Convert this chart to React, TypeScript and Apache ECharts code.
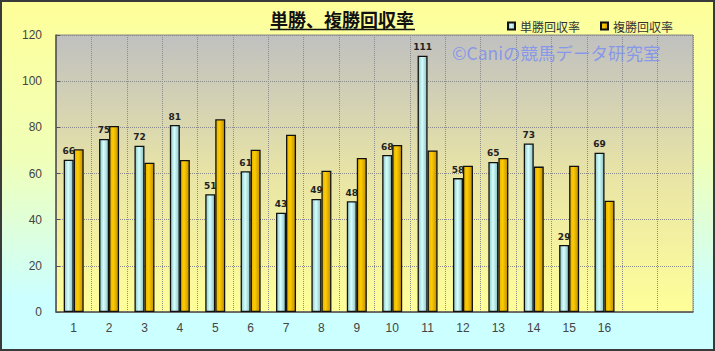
import React, { useEffect, useRef } from "react";
import * as echarts from "echarts";

const categories = ["1", "2", "3", "4", "5", "6", "7", "8", "9", "10", "11", "12", "13", "14", "15", "16", "", ""];
const tanshoValues = [66, 75, 72, 81, 51, 61, 43, 49, 48, 68, 111, 58, 65, 73, 29, 69, null, null];
const fukushoValues = [70.5, 80.6, 64.7, 65.9, 83.5, 70.3, 76.8, 61.2, 66.7, 72.4, 70.0, 63.4, 66.7, 63.0, 63.4, 48.2, null, null];
const seriesNames = ["単勝回収率", "複勝回収率"];
const titleText = "単勝、複勝回収率";
const watermarkText = "©Caniの競馬データ研究室";

const JP = "'Noto Sans CJK JP', 'Noto Sans', sans-serif";
const LAT = "'Liberation Sans', Arial, sans-serif";

export default function App() {
  const ref = useRef<HTMLDivElement>(null);
  useEffect(() => {
    document.body.style.margin = "0";
    const chart = echarts.init(ref.current!, null, { renderer: "svg" });
    chart.setOption({
      animation: false,
      backgroundColor: "transparent",
      grid: {
        left: 56,
        top: 35,
        right: 22,
        bottom: 39,
        show: true,
        borderColor: "#8a8a8a",
        borderWidth: 1,
        backgroundColor: {
          type: "linear", x: 0, y: 0, x2: 0, y2: 1,
          colorStops: [
            { offset: 0, color: "#c0c0c0" },
            { offset: 0.5, color: "#e8e4a6" },
            { offset: 1, color: "#ffff99" },
          ],
        },
      },
      legend: {
        data: seriesNames,
        left: 502,
        top: 15,
        itemWidth: 7,
        itemHeight: 7,
        itemGap: 20,
        icon: "rect",
        textStyle: { fontFamily: JP, fontSize: 12, color: "#333" },
      },
      xAxis: {
        type: "category",
        data: categories,
        axisLine: { show: true, lineStyle: { color: "#555", width: 1.5 } },
        axisTick: { show: false },
        axisLabel: { fontFamily: LAT, fontSize: 12, color: "#444", margin: 10, interval: 0 },
        splitLine: { show: true, lineStyle: { type: "dotted", color: "#8c8c8c" } },
      },
      yAxis: {
        type: "value",
        min: 0,
        max: 120,
        interval: 20,
        axisLine: { show: true, lineStyle: { color: "#555", width: 1.5 } },
        axisTick: { show: true, inside: true, length: 4, lineStyle: { color: "#555" } },
        axisLabel: { fontFamily: LAT, fontSize: 12, color: "#444", margin: 14 },
        splitLine: { show: true, lineStyle: { type: "dotted", color: "#8c8c8c" } },
      },
      series: [
        {
          name: seriesNames[0],
          type: "bar",
          data: tanshoValues,
          barWidth: 10,
          barGap: "0%",
          itemStyle: {
            borderColor: "#111",
            borderWidth: 1.3,
            color: {
              type: "linear", x: 0, y: 0, x2: 1, y2: 0,
              colorStops: [
                { offset: 0, color: "#8fc4c4" },
                { offset: 0.45, color: "#d4ffff" },
                { offset: 1, color: "#8fbfbf" },
              ],
            },
          },
          label: {
            show: true,
            position: "top",
            distance: 4,
            fontFamily: "'DejaVu Sans', sans-serif",
            fontSize: 9,
            fontWeight: "bold",
            color: "#222",
          },
        },
        {
          name: seriesNames[1],
          type: "bar",
          data: fukushoValues,
          barWidth: 10,
          barGap: "0%",
          itemStyle: {
            borderColor: "#111",
            borderWidth: 1.3,
            color: {
              type: "linear", x: 0, y: 0, x2: 1, y2: 0,
              colorStops: [
                { offset: 0, color: "#e0b000" },
                { offset: 0.4, color: "#ffcc00" },
                { offset: 1, color: "#bf9000" },
              ],
            },
          },
        },
      ],
      graphic: [
        {
          type: "text",
          left: 270,
          top: 10,
          style: { text: titleText, fontFamily: JP, fontSize: 18, fontWeight: "bold", fill: "#111" },
        },
        {
          type: "line",
          shape: { x1: 270, y1: 29.5, x2: 415, y2: 29.5 },
          style: { stroke: "#111", lineWidth: 1.5 },
        },
        {
          type: "text",
          left: 452,
          top: 44,
          z: 10,
          style: { text: watermarkText, fontFamily: JP, fontSize: 17.5, fill: "rgba(120,140,245,0.8)" },
        },
        {
          type: "rect",
          shape: { x: 1, y: 1, width: 713, height: 349 },
          style: { fill: "none", stroke: "#3a3a3a", lineWidth: 2 },
          z: 10,
        },
      ],
    });
    return () => chart.dispose();
  }, []);
  return (
    <div
      ref={ref}
      style={{
        width: 715,
        height: 351,
        background: "linear-gradient(to bottom, #ffff99 0%, #f0ffb8 45%, #ccffff 85%, #ccffff 100%)",
      }}
    />
  );
}
